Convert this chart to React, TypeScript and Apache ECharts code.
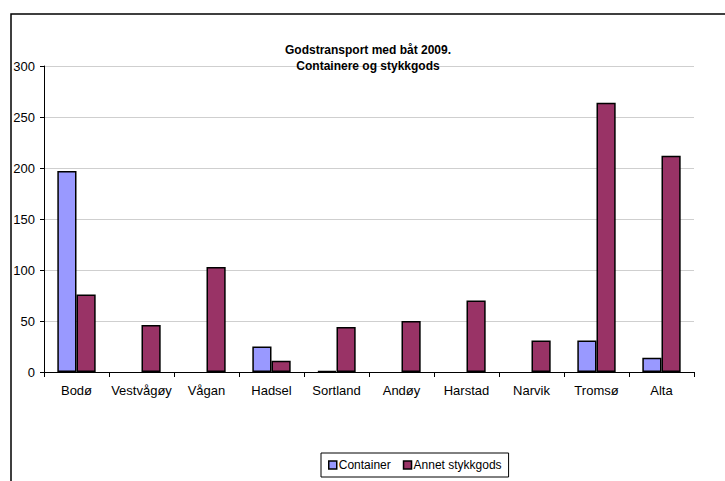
import React, { useEffect, useRef } from "react";
import * as echarts from "echarts";

const titleLines = ["Godstransport med båt 2009.", "Containere og stykkgods"];
const categories = ["Bodø", "Vestvågøy", "Vågan", "Hadsel", "Sortland", "Andøy", "Harstad", "Narvik", "Tromsø", "Alta"];
const containerValues = [197, null, null, 25, 1, null, null, null, 31, 14];
const annetValues = [76, 46, 103, 11, 44, 50, 70, 31, 264, 212];
const seriesNames = ["Container", "Annet stykkgods"];
const colors = ["#9999FF", "#993366"];

const FONT = "'Liberation Sans', Arial, sans-serif";

export default function App() {
  const ref = useRef<HTMLDivElement>(null);
  useEffect(() => {
    if (!ref.current) return;
    const chart = echarts.init(ref.current, undefined, { renderer: "svg" });
    chart.setOption({
      animation: false,
      backgroundColor: "#fff",
      textStyle: { fontFamily: FONT, color: "#000" },
      graphic: [
        {
          type: "rect",
          shape: { x: 11, y: 14, width: 800, height: 600 },
          style: { fill: "none", stroke: "#000", lineWidth: 1.5 },
          silent: true,
        },
      ],
      title: {
        text: titleLines.join("\n"),
        left: 363,
        top: 37,
        textAlign: "center",
        textStyle: { fontFamily: FONT, fontSize: 12, fontWeight: "bold", color: "#000", lineHeight: 16 },
      },
      legend: {
        data: seriesNames.map((n, i) => ({
          name: n,
          itemStyle: { color: colors[i], borderColor: "#000", borderWidth: 1.5 },
        })),
        left: 321,
        top: 453,
        icon: "rect",
        itemWidth: 8,
        itemHeight: 8,
        itemGap: 12,
        padding: [6, 7],
        borderColor: "#000",
        borderWidth: 1,
        textStyle: { fontFamily: FONT, fontSize: 12, color: "#000", padding: [0, 0, 0, -3] },
      },
      grid: { left: 44, right: 31, top: 66, bottom: 109, containLabel: false },
      xAxis: {
        type: "category",
        data: categories,
        axisLine: { lineStyle: { color: "#000", width: 1 } },
        axisTick: { show: true, length: 5, interval: 0, lineStyle: { color: "#000" } },
        axisLabel: { interval: 0, fontFamily: FONT, fontSize: 13, color: "#000", margin: 12 },
      },
      yAxis: {
        type: "value",
        min: 0,
        max: 300,
        interval: 50,
        axisLine: { show: true, lineStyle: { color: "#000", width: 1 } },
        axisTick: { show: true, length: 4, lineStyle: { color: "#000" } },
        axisLabel: { fontFamily: FONT, fontSize: 13, color: "#000", margin: 9 },
        splitLine: { lineStyle: { color: "#cfcfcf", width: 1 } },
      },
      series: [
        {
          name: seriesNames[0],
          type: "bar",
          data: containerValues,
          barGap: "0%",
          barCategoryGap: "41%",
          itemStyle: { color: colors[0], borderColor: "#000", borderWidth: 1.5 },
        },
        {
          name: seriesNames[1],
          type: "bar",
          data: annetValues,
          barGap: "0%",
          barCategoryGap: "41%",
          itemStyle: { color: colors[1], borderColor: "#000", borderWidth: 1.5 },
        },
      ],
    });
    return () => chart.dispose();
  }, []);
  return (
    <div
      ref={ref}
      style={{ position: "fixed", left: 0, top: 0, width: 725, height: 481 }}
    />
  );
}
